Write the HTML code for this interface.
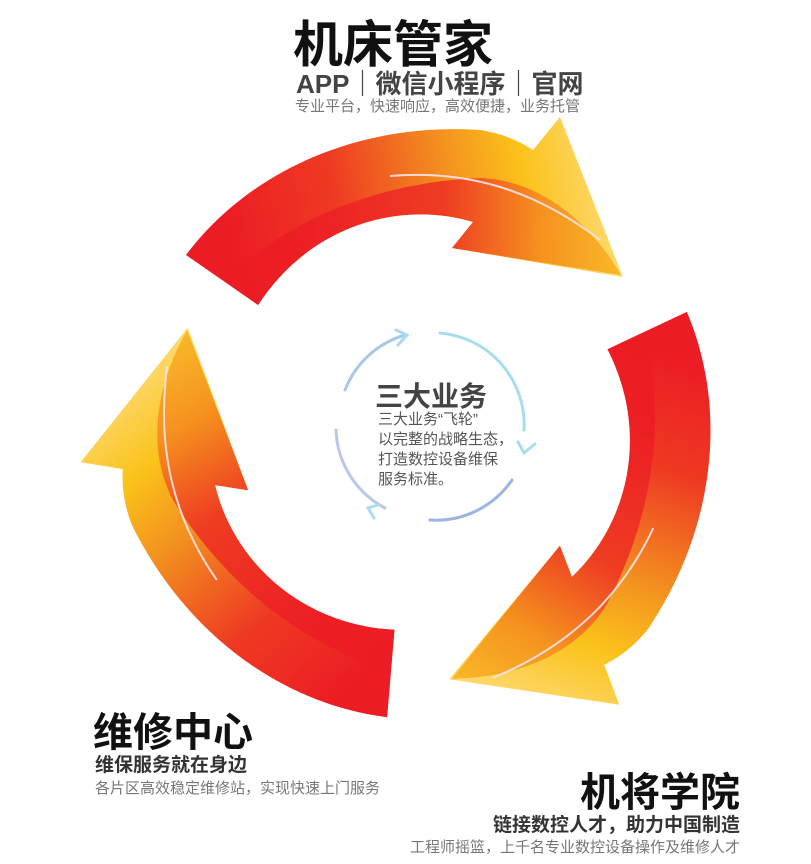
<!DOCTYPE html>
<html><head><meta charset="utf-8"><style>
body{margin:0;background:#fff;width:811px;height:864px;overflow:hidden;position:relative;font-family:"Liberation Sans","Noto Sans CJK SC",sans-serif}
.t{position:absolute;white-space:nowrap}
</style></head><body>
<svg width="811" height="864" style="position:absolute;left:0;top:0">
<defs>
<linearGradient id="g" gradientUnits="userSpaceOnUse" x1="230" y1="250" x2="600" y2="180">
<stop offset="0" stop-color="#ec1c24"/><stop offset="0.3" stop-color="#ee3a22"/><stop offset="0.6" stop-color="#f39020"/><stop offset="0.8" stop-color="#fbc21a"/><stop offset="1" stop-color="#fdd86a"/>
</linearGradient>
<linearGradient id="g2" gradientUnits="userSpaceOnUse" x1="300" y1="260" x2="620" y2="270">
<stop offset="0" stop-color="#ec1c24"/><stop offset="0.45" stop-color="#ed2f23"/><stop offset="0.75" stop-color="#f4891f"/><stop offset="1" stop-color="#f8b21c"/>
</linearGradient>
<g id="arr">
<path d="M186,255 C250,170 360,122 480,130 C500,133 518,140 533,150 L560,117 L623,277 L452,248 L473,222 C400,200 310,225 258,305 Z" fill="url(#g)"/>
<path d="M224,281 C290,218 380,182 480,178 C540,180 590,222 621,275 L452,248 L473,222 C400,200 310,225 258,305 Z" fill="url(#g2)" opacity="0.85"/>
<path d="M390,176 C460,170 530,186 600,240" stroke="#fbe3ea" stroke-width="2" fill="none" opacity="0.9"/>
</g>
</defs>
<use href="#arr"/>
<use href="#arr" transform="rotate(120 420 428)"/>
<use href="#arr" transform="rotate(240 420 428)"/>
<g fill="none" stroke-width="3" stroke-linecap="round">
<path d="M345,390 A92,92 0 0 1 405,335" stroke="#a8c8ea"/>
<path d="M440,333 A92,92 0 0 1 524,430" stroke="#a9dcef"/>
<path d="M512,480 A92,92 0 0 1 430,520" stroke="#9cb5e0"/>
<path d="M385,508 A92,92 0 0 1 336,430" stroke="#b9c8ea"/>
<path d="M396,330 L407,335 L398,345" stroke="#a9dcef"/>
<path d="M518,442 L524,453 L535,444" stroke="#a9dcef"/>
<path d="M378,505 L368,508 L374,518" stroke="#a9dcef"/>
</g>
</svg>
<div class="t" style="left:293px;top:5px;font-size:50px;font-weight:bold;color:#111">机床管家</div>
<div class="t" style="left:296px;top:64px;font-size:26px;font-weight:bold;color:#444">APP｜微信小程序｜官网</div>
<div class="t" style="left:295px;top:95px;font-size:15px;color:#777">专业平台，快速响应，高效便捷，业务托管</div>
<div class="t" style="left:375px;top:375px;font-size:28px;font-weight:bold;color:#444">三大业务</div>
<div class="t" style="left:378px;top:410px;font-size:15px;line-height:20px;color:#555">三大业务“飞轮”<br>以完整的战略生态，<br>打造数控设备维保<br>服务标准。</div>
<div class="t" style="left:93px;top:700px;font-size:40px;font-weight:bold;color:#111">维修中心</div>
<div class="t" style="left:95px;top:750px;font-size:19px;font-weight:bold;color:#333">维保服务就在身边</div>
<div class="t" style="left:95px;top:777px;font-size:15px;color:#777">各片区高效稳定维修站，实现快速上门服务</div>
<div class="t" style="right:71px;top:760px;font-size:40px;font-weight:bold;color:#111">机将学院</div>
<div class="t" style="right:71px;top:810px;font-size:19px;font-weight:bold;color:#333">链接数控人才，助力中国制造</div>
<div class="t" style="right:71px;top:836px;font-size:15px;color:#777">工程师摇篮，上千名专业数控设备操作及维修人才</div>
</body></html>
